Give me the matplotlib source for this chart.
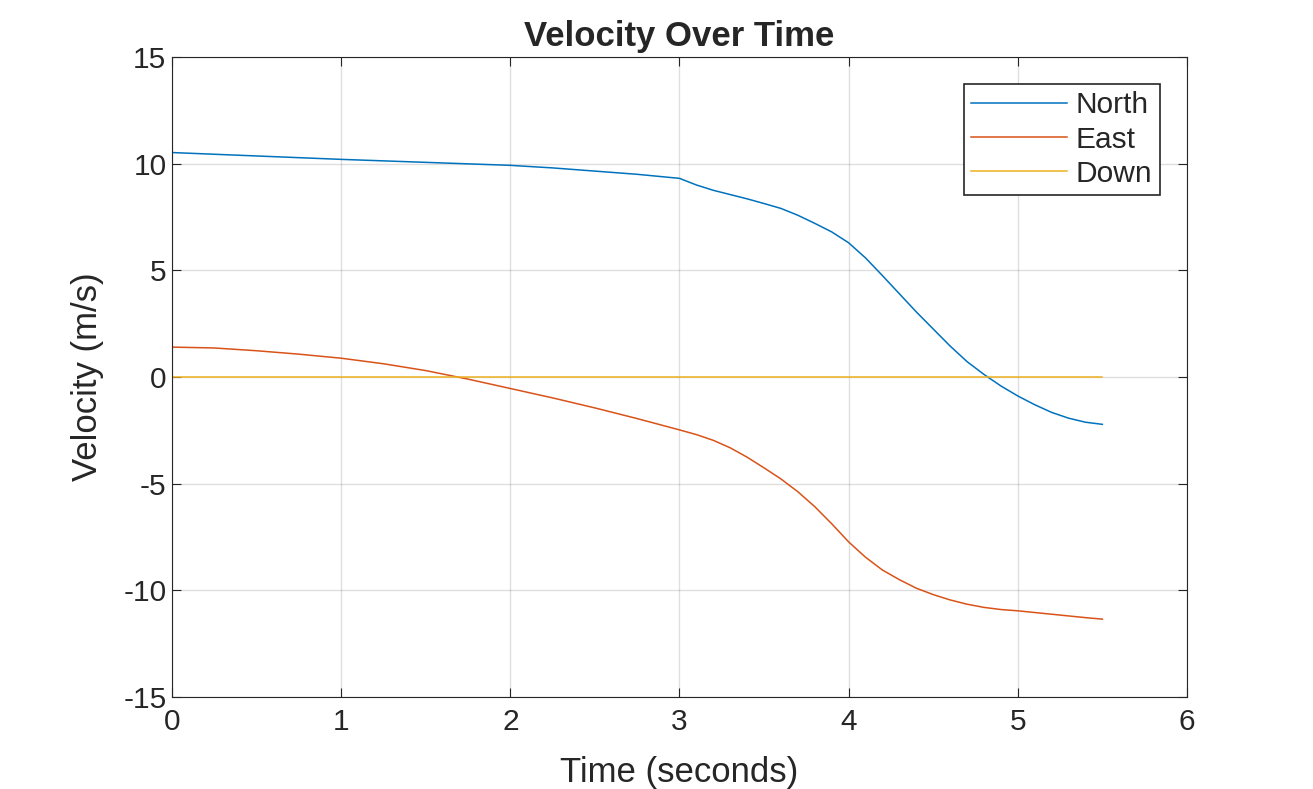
import matplotlib
matplotlib.use("Agg")
import matplotlib.pyplot as plt

# values
time_s = [0.0, 0.25, 0.5, 0.75, 1.0, 1.25, 1.5, 1.75, 2.0, 2.25, 2.5, 2.75,
          3.0, 3.1, 3.2, 3.3, 3.4, 3.5, 3.6, 3.7, 3.8, 3.9, 4.0, 4.1, 4.2,
          4.3, 4.4, 4.5, 4.6, 4.7, 4.8, 4.9, 5.0, 5.1, 5.2, 5.3, 5.4, 5.5]
north = [10.52, 10.44, 10.36, 10.28, 10.20, 10.13, 10.06, 9.99, 9.92, 9.80,
         9.65, 9.50, 9.31, 9.00, 8.75, 8.55, 8.35, 8.13, 7.90, 7.58, 7.20,
         6.80, 6.29, 5.58, 4.75, 3.90, 3.05, 2.25, 1.45, 0.72, 0.12, -0.42,
         -0.89, -1.30, -1.66, -1.93, -2.12, -2.22]
east = [1.40, 1.36, 1.23, 1.07, 0.88, 0.62, 0.30, -0.10, -0.54, -0.98,
        -1.45, -1.95, -2.48, -2.70, -2.97, -3.32, -3.76, -4.26, -4.78, -5.38,
        -6.08, -6.88, -7.73, -8.45, -9.05, -9.50, -9.90, -10.20, -10.45,
        -10.65, -10.80, -10.90, -10.96, -11.04, -11.12, -11.20, -11.28, -11.35]
down = [0.0] * len(time_s)

series = [("North", north, (0.0, 0.447, 0.741)),
          ("East", east, (0.85, 0.325, 0.098)),
          ("Down", down, (0.929, 0.694, 0.125))]

plt.rcParams['font.family'] = ['Liberation Sans', 'DejaVu Sans']
plt.rcParams['axes.unicode_minus'] = False
dark = (0.15, 0.15, 0.15)

fig = plt.figure(figsize=(13.13, 7.89), dpi=100)
ax = fig.add_axes([0.131, 0.1166, 0.773, 0.8112])

for name, vals, col in series:
    ax.plot(time_s, vals, color=col, linewidth=1.1, label=name)

ax.set_xlim(0, 6)
ax.set_ylim(-15, 15)
ax.set_xticks(range(0, 7))
ax.set_yticks(range(-15, 16, 5))
ax.grid(True, color=dark, alpha=0.15, linewidth=1)
ax.tick_params(direction='in', top=True, right=True, labelsize=21.5,
               colors=dark, length=6.5)
ax.tick_params(axis='x', pad=8)
ax.tick_params(axis='y', pad=4)
for sp in ax.spines.values():
    sp.set_color(dark)

ax.set_title("Velocity Over Time", fontsize=25, fontweight='bold', pad=8,
             color=dark)
ax.set_xlabel("Time (seconds)", fontsize=25, color=dark, labelpad=14)
ax.set_ylabel("Velocity (m/s)", fontsize=25, color=dark, labelpad=14)

leg = ax.legend(loc='upper right', fontsize=21.5, fancybox=False,
                edgecolor=dark, framealpha=1,
                handlelength=3.2, borderaxespad=0.9, labelspacing=0.21,
                borderpad=0.25, handletextpad=0.3)
leg.get_frame().set_linewidth(1.2)
for txt in leg.get_texts():
    txt.set_color(dark)

fig.savefig("out.png", dpi=100)
